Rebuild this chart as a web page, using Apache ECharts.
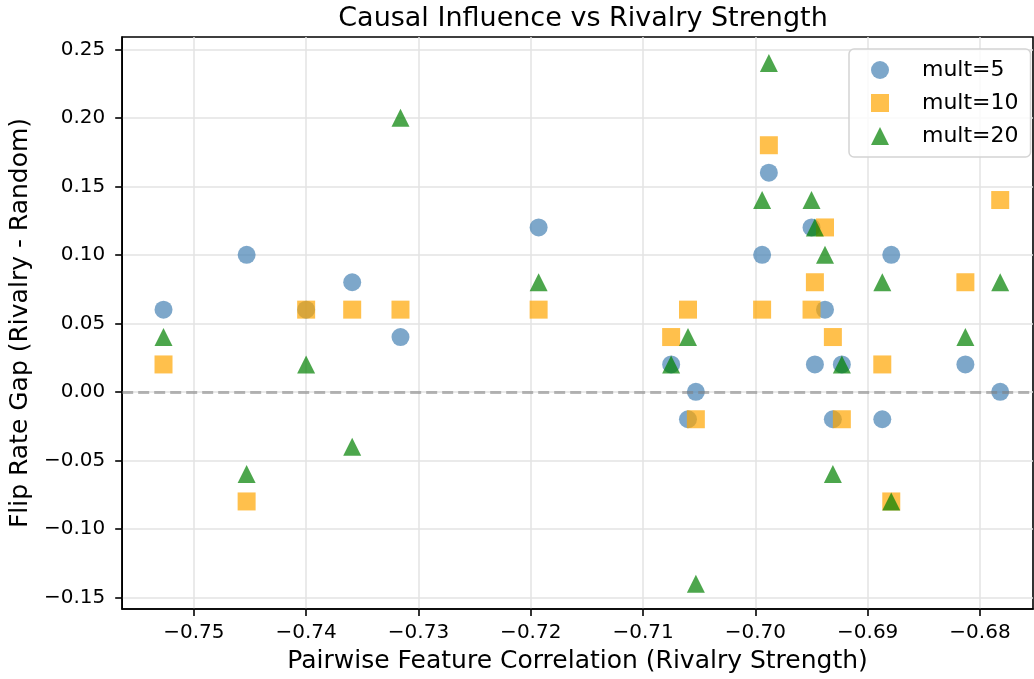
<!DOCTYPE html>
<html>
<head>
<meta charset="utf-8">
<script src="https://cdn.jsdelivr.net/npm/echarts@6/dist/echarts.min.js"></script>
<style>
html,body{margin:0;padding:0;background:#fff;}
#chart{width:1034px;height:679px;}
</style>
</head>
<body>
<div id="chart"></div>
<script>
// ---- data ----
const correlation = [-0.7527, -0.7453, -0.7400, -0.7359, -0.7316, -0.7193, -0.7075, -0.7060, -0.7053, -0.6994,
                     -0.6988, -0.6950, -0.6947, -0.6938, -0.6931, -0.6923, -0.6887, -0.6879, -0.6813, -0.6782];
const mult5  = [0.06, 0.10, 0.06, 0.08, 0.04, 0.12, 0.02, -0.02, 0.00, 0.10,
                0.16, 0.12, 0.02, 0.06, -0.02, 0.02, -0.02, 0.10, 0.02, 0.00];
const mult10 = [0.02, -0.08, 0.06, 0.06, 0.06, 0.06, 0.04, 0.06, -0.02, 0.06,
                0.18, 0.06, 0.08, 0.12, 0.04, -0.02, 0.02, -0.08, 0.08, 0.14];
const mult20 = [0.04, -0.06, 0.02, -0.04, 0.20, 0.08, 0.02, 0.04, -0.14, 0.14,
                0.24, 0.14, 0.12, 0.10, -0.06, 0.02, 0.08, -0.08, 0.04, 0.08];
const seriesNames = ['mult=5', 'mult=10', 'mult=20'];
const xTicks = [-0.75, -0.74, -0.73, -0.72, -0.71, -0.70, -0.69, -0.68];
const yTicks = [-0.15, -0.10, -0.05, 0.00, 0.05, 0.10, 0.15, 0.20, 0.25];
const xRange = [-0.75638, -0.67528];
const yRange = [-0.1585, 0.259];
const refLineY = 0;

// ---- chart ----
const FONT = 'DejaVu Sans';
const fmt = v => { const s = Math.abs(v).toFixed(2); return (v < -1e-9 ? '\u2212' : '') + s; };
const pairs = ys => correlation.map((x, i) => [x, ys[i]]);

const chart = echarts.init(document.getElementById('chart'), null, {renderer: 'canvas'});
const axisCommon = {
  axisLine: {show: true, onZero: false, lineStyle: {color: '#000', width: 1.6}},
  axisTick: {show: true, length: 7, lineStyle: {color: '#000', width: 1.6}},
  splitLine: {show: true, lineStyle: {color: '#e3e3e3', width: 1.5}},
};
chart.setOption({
  animation: false,
  backgroundColor: '#fff',
  textStyle: {fontFamily: FONT},
  title: {
    text: 'Causal Influence vs Rivalry Strength',
    left: 578, top: 0, textAlign: 'center',
    textStyle: {fontFamily: FONT, fontSize: 27, fontWeight: 'normal', color: '#000'}
  },
  grid: {left: 121, right: 1, top: 37, bottom: 70, show: true, borderColor: '#000', borderWidth: 1.6, backgroundColor: 'transparent'},
  legend: {
    orient: 'vertical', left: 849, top: 49,
    padding: [10, 12, 10, 22],
    itemWidth: 18, itemHeight: 18, itemGap: 11,
    borderColor: '#d4d4d4', borderWidth: 1.5, borderRadius: 5, backgroundColor: 'rgba(255,255,255,0.8)',
    textStyle: {fontFamily: FONT, fontSize: 22, color: '#000', lineHeight: 18, padding: [0, 0, 0, 28]},
    data: seriesNames
  },
  xAxis: Object.assign({}, axisCommon, {
    type: 'value', min: xRange[0], max: xRange[1],
    name: 'Pairwise Feature Correlation (Rivalry Strength)', nameLocation: 'middle', nameGap: 40,
    nameTextStyle: {fontFamily: FONT, fontSize: 25, color: '#000'},
    axisTick: Object.assign({}, axisCommon.axisTick, {customValues: xTicks}),
    axisLabel: {customValues: xTicks, formatter: fmt, margin: 14, fontFamily: FONT, fontSize: 20, color: '#000'}
  }),
  yAxis: Object.assign({}, axisCommon, {
    type: 'value', min: yRange[0], max: yRange[1],
    name: 'Flip Rate Gap (Rivalry - Random)', nameLocation: 'middle', nameGap: 81,
    nameTextStyle: {fontFamily: FONT, fontSize: 25, color: '#000'},
    axisTick: Object.assign({}, axisCommon.axisTick, {customValues: yTicks}),
    axisLabel: {customValues: yTicks, formatter: fmt, margin: 17, fontFamily: FONT, fontSize: 20, color: '#000'}
  }),
  series: [
    {name: seriesNames[0], type: 'scatter', symbol: 'circle', symbolSize: 18, data: pairs(mult5),
     itemStyle: {color: 'rgb(70,130,180)', opacity: 0.7}, z: 2},
    {name: seriesNames[1], type: 'scatter', symbol: 'rect', symbolSize: 18, data: pairs(mult10),
     itemStyle: {color: 'rgb(255,165,0)', opacity: 0.7}, z: 3},
    {name: seriesNames[2], type: 'scatter', symbol: 'triangle', symbolSize: 18, data: pairs(mult20),
     itemStyle: {color: 'rgb(0,128,0)', opacity: 0.7}, z: 4},
    {name: 'zero', type: 'scatter', data: [], z: 10,
     markLine: {silent: true, symbol: ['none', 'none'], label: {show: false},
       lineStyle: {color: 'rgba(128,128,128,0.55)', width: 3, type: [11, 5]},
       data: [{yAxis: refLineY}]}}
  ]
});
</script>
</body>
</html>
